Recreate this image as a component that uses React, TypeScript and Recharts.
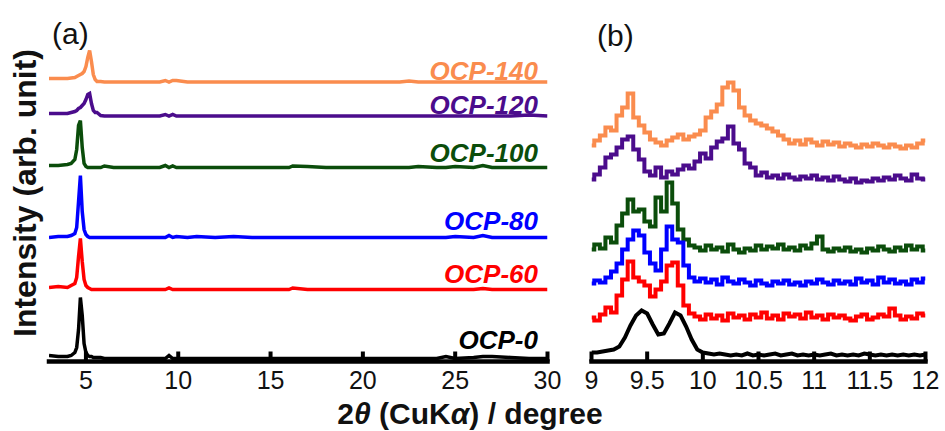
import { LineChart, Line, XAxis, YAxis } from "recharts";

// panel (a): 2theta grid and stacked intensities (offset per sample)
const xA = [3, 3.5, 4, 4.2, 4.4, 4.5, 4.6, 4.7, 4.8, 4.9, 5.0, 5.1, 5.2, 5.3, 5.4, 5.5, 5.6, 5.8, 6, 6.5, 7, 8, 9, 9.3, 9.5, 9.7, 9.9, 10.5, 11, 12, 13, 14, 15, 16, 16.2, 17, 18, 19, 20, 21, 22, 22.5, 23, 24, 24.5, 25, 26, 26.5, 27, 28, 29, 30];

const ocp0A = [6, 5, 5, 6, 9, 14, 32, 64, 46, 18, 9, 6, 5, 5, 4, 4, 4, 4, 3, 3, 3, 3, 3, 3, 6, 3, 3, 3, 3, 3, 3, 3, 3, 3, 3, 3, 3, 3, 3, 3, 3, 3, 3, 3, 5, 3, 4, 5, 5, 4, 3, 3];
const ocp60A = [74, 75, 74, 76, 78, 84, 105, 123, 100, 82, 76, 74, 73, 72, 72, 72, 72, 72, 72, 72, 72, 72, 72, 72, 73.5, 72, 72, 72, 72, 72, 72, 72, 72, 72, 73.5, 72, 72, 72, 72, 72, 72, 72, 72, 72, 72, 72, 72, 73, 72, 72, 72, 72];
const ocp80A = [124, 125, 125, 126, 128, 134, 160, 186, 150, 132, 127, 125, 124, 124, 124, 124, 124, 124, 124, 124, 124, 124, 124, 124, 126, 124, 125, 124, 125, 124, 125, 124, 124, 124, 124, 124, 124, 124, 124, 124, 124, 124, 124, 124, 124, 125, 124, 126, 124, 124, 124, 124];
const ocp100A = [196, 196, 197, 198, 202, 212, 236, 241, 214, 198, 195, 194, 194, 194, 194, 194, 194, 194, 195.5, 194, 194, 194, 194, 196, 194, 195.5, 194, 194, 194, 194, 194, 194, 194, 194, 195.5, 195, 194, 194, 194, 194, 194, 194, 195, 194, 194, 195, 194, 196, 194, 194, 194, 194];
const ocp120A = [248, 248, 248, 249, 250, 251, 253, 254, 256, 258, 262, 267, 268, 258, 251, 249, 249, 246, 245.5, 245.5, 245.5, 245.5, 245.5, 247, 245.5, 247, 245.5, 245.5, 245.5, 245.5, 245.5, 245.5, 245.5, 245.5, 245.5, 245.5, 245.5, 245.5, 245.5, 245.5, 245.5, 245.5, 245.5, 245.5, 245.5, 245.5, 245.5, 245.5, 245.5, 245.5, 246.5, 245.5];
const ocp140A = [283, 283, 283, 283.5, 284, 285, 286, 287, 288, 290, 295, 304, 311, 300, 287, 282, 280, 280, 279.5, 279.5, 279.5, 279.5, 279.5, 281, 279.5, 281, 281, 279.5, 279.5, 279.5, 279.5, 279.5, 279.5, 279.5, 279.5, 279.5, 279.5, 279.5, 279.5, 279.5, 279.5, 280.5, 279.5, 279.5, 279.5, 279.5, 279.5, 279.5, 279.5, 279.5, 279.5, 279.5];

// panel (b): 9-12 degree close-up
const xB = [9.0, 9.05, 9.1, 9.15, 9.2, 9.25, 9.3, 9.35, 9.4, 9.45, 9.5, 9.55, 9.6, 9.65, 9.7, 9.75, 9.8, 9.85, 9.9, 9.95, 10.0, 10.05, 10.1, 10.15, 10.2, 10.25, 10.3, 10.35, 10.4, 10.45, 10.5, 10.55, 10.6, 10.65, 10.7, 10.75, 10.8, 10.85, 10.9, 10.95, 11.0, 11.05, 11.1, 11.15, 11.2, 11.25, 11.3, 11.35, 11.4, 11.45, 11.5, 11.55, 11.6, 11.65, 11.7, 11.75, 11.8, 11.85, 11.9, 11.95, 12.0];

const ocp0B = [9, 9, 10, 11, 12, 15, 24, 36, 46, 51, 48, 37, 27, 28, 38, 49, 46, 35, 22, 12, 9, 8, 7, 8, 7, 6, 7, 6, 8, 6, 7, 6, 7, 8, 6, 7, 8, 6, 7, 6, 7, 6, 7, 8, 6, 7, 6, 7, 6, 8, 7, 6, 7, 6, 7, 6, 7, 6, 7, 6, 7];
const ocp60B = [44, 41, 47, 54, 49, 66, 82, 100, 84, 80, 76, 65, 72, 80, 96, 99, 76, 56, 48, 45, 42, 47, 43, 46, 41, 48, 44, 46, 42, 47, 44, 49, 43, 46, 42, 48, 45, 47, 43, 49, 44, 46, 42, 47, 44, 46, 43, 41, 45, 47, 42, 44, 47, 45, 53, 46, 42, 45, 43, 48, 46];
const ocp80B = [78, 81, 79, 84, 90, 98, 112, 122, 131, 126, 109, 98, 91, 112, 135, 122, 119, 96, 84, 80, 83, 79, 82, 77, 84, 80, 78, 82, 79, 76, 81, 78, 76, 80, 78, 81, 77, 79, 76, 80, 78, 82, 79, 77, 81, 78, 80, 77, 83, 79, 81, 77, 84, 79, 82, 78, 80, 77, 82, 79, 83];
const ocp100B = [112, 117, 113, 124, 119, 136, 148, 162, 150, 152, 140, 135, 164, 150, 179, 158, 132, 122, 116, 114, 111, 116, 112, 114, 110, 117, 112, 109, 113, 111, 116, 112, 115, 113, 117, 112, 114, 111, 116, 113, 118, 125, 112, 110, 113, 111, 114, 110, 112, 109, 113, 111, 115, 112, 110, 114, 111, 116, 112, 115, 111];
const ocp120B = [182, 187, 194, 204, 207, 214, 222, 225, 212, 202, 190, 186, 194, 184, 190, 187, 192, 196, 193, 200, 208, 203, 214, 220, 223, 235, 218, 212, 198, 194, 186, 189, 184, 186, 183, 187, 184, 182, 185, 183, 186, 182, 184, 181, 185, 182, 180, 183, 179, 181, 180, 183, 181, 184, 182, 186, 183, 181, 187, 183, 182];
const ocp140B = [216, 221, 226, 234, 231, 246, 254, 268, 244, 236, 229, 222, 219, 216, 221, 224, 227, 222, 225, 227, 231, 244, 250, 257, 274, 279, 271, 254, 246, 241, 238, 236, 233, 230, 226, 222, 218, 221, 217, 222, 219, 216, 220, 217, 219, 215, 218, 216, 214, 217, 215, 218, 216, 214, 217, 215, 213, 216, 214, 218, 221];

const ticksA = [5, 10, 15, 20, 25, 30];
const ticksB = [9, 9.5, 10, 10.5, 11, 11.5, 12];

const series = [
  { key: "ocp140", name: "OCP-140", color: "#fa8c4e" },
  { key: "ocp120", name: "OCP-120", color: "#4b0c8c" },
  { key: "ocp100", name: "OCP-100", color: "#0b4d0b" },
  { key: "ocp80", name: "OCP-80", color: "#0000ff" },
  { key: "ocp60", name: "OCP-60", color: "#ff0000" },
  { key: "ocp0", name: "OCP-0", color: "#000000" },
];

const rowsA = xA.map((x, i) => ({
  x,
  ocp0: ocp0A[i],
  ocp60: ocp60A[i],
  ocp80: ocp80A[i],
  ocp100: ocp100A[i],
  ocp120: ocp120A[i],
  ocp140: ocp140A[i],
}));

const rowsB = xB.map((x, i) => ({
  x,
  ocp0: ocp0B[i],
  ocp60: ocp60B[i],
  ocp80: ocp80B[i],
  ocp100: ocp100B[i],
  ocp120: ocp120B[i],
  ocp140: ocp140B[i],
}));

// label centres (y) for the sample names in panel (a)
const labelY: Record<string, number> = {
  ocp140: 70,
  ocp120: 104,
  ocp100: 152,
  ocp80: 220,
  ocp60: 273,
  ocp0: 339,
};

const FONT = 'Arial, "Liberation Sans", sans-serif';
const frameLine = { stroke: "#000", strokeWidth: 4.5, strokeLinecap: "square" };
const tickStyle = { stroke: "#000", strokeWidth: 4 };
const yDomain: [number, number] = [0, 346.5];

const Panel = ({
  rows,
  domain,
  ticks,
  left,
  width,
  marginLeft,
  marginRight,
  stroke,
  stepped,
}: {
  rows: any[];
  domain: [number, number];
  ticks: number[];
  left: number;
  width: number;
  marginLeft: number;
  marginRight: number;
  stroke: number;
  stepped: boolean;
}) => (
  <div style={{ position: "absolute", left, top: 0 }}>
    <LineChart
      width={width}
      height={431}
      data={rows}
      margin={{ top: 15, right: marginRight, bottom: 29.5, left: marginLeft }}
    >
      <XAxis
        xAxisId="b"
        dataKey="x"
        type="number"
        domain={domain}
        ticks={ticks}
        interval={0}
        height={40}
        tickSize={-10}
        tickMargin={20}
        axisLine={frameLine}
        tickLine={tickStyle}
        tick={{ fill: "#111", fontSize: 25, fontFamily: FONT }}
        allowDataOverflow
      />
      <XAxis
        xAxisId="t"
        orientation="top"
        dataKey="x"
        type="number"
        domain={domain}
        ticks={ticks}
        interval={0}
        height={0}
        tickSize={-10}
        axisLine={frameLine}
        tickLine={tickStyle}
        tickFormatter={() => ""}
        allowDataOverflow
      />
      <YAxis yAxisId="l" width={0} domain={yDomain} tick={false} tickLine={false} axisLine={frameLine} allowDataOverflow />
      <YAxis yAxisId="r" orientation="right" width={0} domain={yDomain} tick={false} tickLine={false} axisLine={frameLine} allowDataOverflow />
      {series.map((s) => (
        <Line
          key={s.key}
          xAxisId="b"
          yAxisId="l"
          dataKey={s.key}
          type={stepped && s.key !== "ocp0" ? "step" : "linear"}
          stroke={s.color}
          strokeWidth={stroke}
          dot={false}
          isAnimationActive={false}
        />
      ))}
    </LineChart>
  </div>
);

export default function App() {
  return (
    <div
      style={{
        position: "absolute",
        left: 0,
        top: 0,
        width: 945,
        height: 431,
        background: "#fff",
        fontFamily: FONT,
      }}
    >
      <Panel rows={rowsA} domain={[3, 30]} ticks={ticksA} left={0} width={575} marginLeft={49} marginRight={27.5} stroke={3.5} stepped={false} />
      <Panel rows={rowsB} domain={[9, 12]} ticks={ticksB} left={560} width={385} marginLeft={31.5} marginRight={19.5} stroke={4} stepped />
      <svg width={945} height={431} style={{ position: "absolute", left: 0, top: 0, pointerEvents: "none" }}>
        <text x={52} y={44} fontSize={30} fill="#111" fontFamily={FONT}>(a)</text>
        <text x={597} y={46} fontSize={30} fill="#111" fontFamily={FONT}>(b)</text>
        {series.map((s) => (
          <text
            key={s.key}
            x={538}
            y={labelY[s.key] + 9.5}
            textAnchor="end"
            fontSize={26}
            fontWeight="bold"
            fontStyle="italic"
            fill={s.color}
            fontFamily={FONT}
          >
            {s.name}
          </text>
        ))}
        <text x={470} y={424} textAnchor="middle" fontSize={30} fontWeight="bold" fill="#111" fontFamily={FONT}>
          2<tspan fontStyle="italic">θ</tspan> (CuK<tspan fontStyle="italic">α</tspan>) / degree
        </text>
        <text
          x={36}
          y={193}
          transform="rotate(-90, 36, 193)"
          textAnchor="middle"
          fontSize={32}
          fontWeight="bold"
          fill="#111"
          fontFamily={FONT}
        >
          Intensity (arb. unit)
        </text>
      </svg>
    </div>
  );
}
